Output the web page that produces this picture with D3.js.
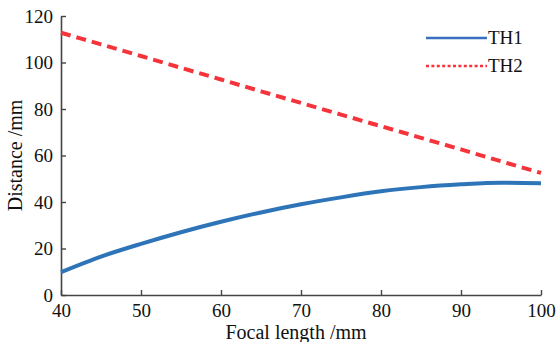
<!DOCTYPE html>
<html>
<head>
<meta charset="utf-8">
<script src="https://cdn.jsdelivr.net/npm/d3@7"></script>
<style>
  body { margin: 0; background: #fff; }
</style>
</head>
<body>
<div id="chart"></div>
<script>
// Data
var focal = [40, 45, 50, 55, 60, 65, 70, 75, 80, 85, 90, 95, 100];
var th1 = [9.8, 16.5, 22, 27, 31.5, 35.5, 39, 42, 44.6, 46.4, 47.6, 48.3, 48.1];
var th2 = [112.8, 107.8, 102.8, 97.7, 92.7, 87.6, 82.6, 77.6, 72.6, 67.6, 62.6, 57.5, 52.5];
var xTicks = [40, 50, 60, 70, 80, 90, 100];
var yTicks = [0, 20, 40, 60, 80, 100, 120];

var serif = "'Liberation Serif'";

var width = 556, height = 342;
var margin = { top: 16, right: 15, bottom: 47, left: 61 };
var w = width - margin.left - margin.right;
var h = height - margin.top - margin.bottom;

var svg = d3.select("#chart").append("svg")
  .attr("width", width).attr("height", height);
var g = svg.append("g")
  .attr("transform", "translate(" + margin.left + "," + margin.top + ")");

var x = d3.scaleLinear().domain([40, 100]).range([0, w]);
var y = d3.scaleLinear().domain([0, 120]).range([h, 0]);

// Axes with inward ticks
var xAxis = g.append("g").attr("transform", "translate(0," + h + ")")
  .call(d3.axisBottom(x).tickValues(xTicks).tickSizeInner(-5).tickSizeOuter(0).tickPadding(12));
var yAxis = g.append("g")
  .call(d3.axisLeft(y).tickValues(yTicks).tickSizeInner(-5).tickSizeOuter(0).tickPadding(8));

[xAxis, yAxis].forEach(function (a) {
  a.attr("font-family", null).attr("font-size", null);
  a.select(".domain").attr("stroke", "#444").attr("stroke-width", 1.6);
  a.selectAll(".tick line").attr("stroke", "#444").attr("stroke-width", 1.4);
  a.selectAll(".tick text").style("font-family", serif).style("font-size", "19px").attr("fill", "#111");
});
xAxis.selectAll(".tick text").attr("dy", "0.5em");

var pts = function (vals) {
  return focal.map(function (f, i) { return { x: f, v: vals[i] }; });
};
var line = d3.line()
  .x(function (d) { return x(d.x); })
  .y(function (d) { return y(d.v); })
  .curve(d3.curveMonotoneX);

g.append("path").datum(pts(th2))
  .attr("fill", "none").attr("stroke", "#f5333a").attr("stroke-width", 4)
  .attr("stroke-dasharray", "10,6").attr("d", line);

g.append("path").datum(pts(th1))
  .attr("fill", "none").attr("stroke", "#2e74b8").attr("stroke-width", 4)
  .attr("d", line);

// Legend
var legend = svg.append("g");
legend.append("line").attr("x1", 426).attr("x2", 487).attr("y1", 38).attr("y2", 38)
  .attr("stroke", "#3a6fc0").attr("stroke-width", 2.5);
legend.append("text").attr("x", 488).attr("y", 44).text("TH1");
legend.append("line").attr("x1", 426).attr("x2", 487).attr("y1", 66).attr("y2", 66)
  .attr("stroke", "#f5333a").attr("stroke-width", 2.5).attr("stroke-dasharray", "3,2.4");
legend.append("text").attr("x", 488).attr("y", 72).text("TH2");
legend.selectAll("text").style("font-family", serif).style("font-size", "19px").attr("fill", "#111");

// Axis titles
svg.append("text").attr("x", margin.left + w / 2 - 5).attr("y", 339)
  .attr("text-anchor", "middle").style("font-family", serif).style("font-size", "20px").attr("fill", "#111")
  .text("Focal length /mm");
svg.append("text").attr("transform", "translate(22," + (margin.top + h / 2) + ") rotate(-90)")
  .attr("text-anchor", "middle").style("font-family", serif).style("font-size", "20px").attr("fill", "#111")
  .text("Distance /mm");
</script>
</body>
</html>
